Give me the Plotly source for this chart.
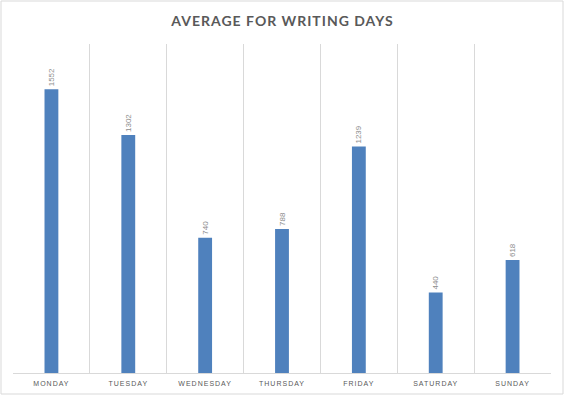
import plotly.graph_objects as go

days = ["MONDAY", "TUESDAY", "WEDNESDAY", "THURSDAY", "FRIDAY", "SATURDAY", "SUNDAY"]
averages = [1552, 1302, 740, 788, 1239, 440, 618]
title_text = "AVERAGE FOR WRITING DAYS"

W, H = 565, 396
ml, mr, mt, mb = 13, 14, 44, 23
pw, ph = W - ml - mr, H - mt - mb

fig = go.Figure(go.Bar(
    x=days, y=averages,
    marker=dict(color="#4F81BD", line=dict(width=0)),
    text=[str(v) for v in averages],
    textposition="outside",
    textangle=-90,
    constraintext="none",
    textfont=dict(family="Liberation Sans", size=8, color="#8C8C8C"),
    cliponaxis=False,
    hoverinfo="skip",
))

fig.update_layout(
    width=W, height=H,
    margin=dict(l=ml, r=mr, t=mt, b=mb, autoexpand=False),
    paper_bgcolor="white", plot_bgcolor="white",
    bargap=0.82,
    showlegend=False,
    title=dict(text="<b>" + title_text + "</b>", x=0.5, xanchor="center",
               y=1 - 21 / H, yanchor="middle",
               font=dict(family="Lato", size=14, color="#595959")),
    xaxis=dict(
        type="category", range=[-0.5, 6.5], automargin=False,
        tickson="boundaries", showgrid=True, gridcolor="#D9D9D9", gridwidth=1,
        ticks="", showline=True, linecolor="#D9D9D9", linewidth=1,
        ticklabelstandoff=4,
        tickfont=dict(family="Liberation Sans", size=7, color="#595959"),
        fixedrange=True,
    ),
    yaxis=dict(range=[0, 1800], visible=False, showgrid=False, zeroline=False,
               automargin=False, fixedrange=True),
    shapes=[dict(type="rect", xref="paper", yref="paper",
                 x0=(1 - ml) / pw, x1=(W - 2 - ml) / pw,
                 y0=(2 - mb) / ph, y1=(H - 1 - mb) / ph,
                 line=dict(color="#D9D9D9", width=1), fillcolor="rgba(0,0,0,0)",
                 layer="below")],
)

post = (
    "document.body.style.margin='0';document.body.style.overflow='hidden';"
    "document.querySelectorAll('.gtitle').forEach(function(e){e.style.letterSpacing='1px';});"
    "document.querySelectorAll('.xtick text').forEach(function(e){e.style.letterSpacing='1px';});"
)

fig.write_html("out.html", config={"displayModeBar": False, "staticPlot": True},
               post_script=post)
